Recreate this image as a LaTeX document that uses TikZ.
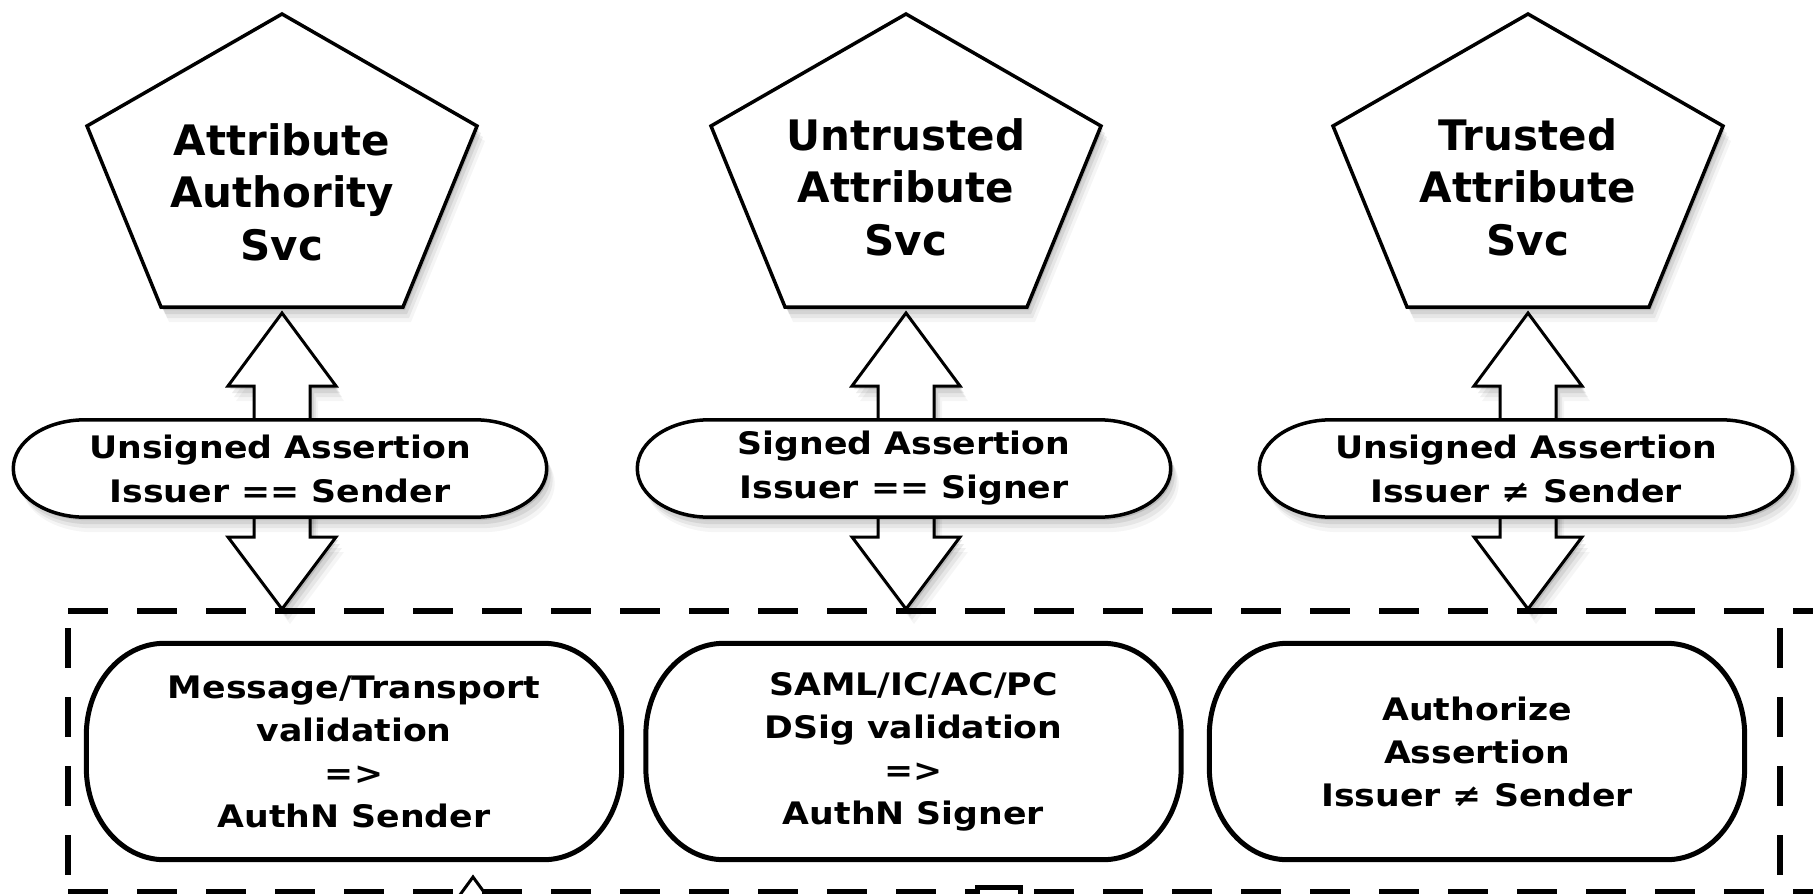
\documentclass[tikz,border=0pt]{standalone}
\usepackage{fontspec}
\setmainfont{DejaVu Sans}
\newfontfamily\lblfont[FakeStretch=1.12]{DejaVu Sans}
\usetikzlibrary{calc}
\pgfdeclarelayer{back}
\pgfdeclarelayer{mid}
\pgfsetlayers{back,mid,main}

\tikzset{
  haze/.style={
    preaction={fill=black,opacity=.12,transform canvas={shift={(2pt,-3pt)}}},
    preaction={fill=black,opacity=.08,transform canvas={shift={(4pt,-7pt)}}},
    preaction={fill=black,opacity=.06,transform canvas={shift={(6pt,-11pt)}}},
    preaction={fill=black,opacity=.04,transform canvas={shift={(8pt,-15pt)}}}},
  pentbox/.style={draw=black,line width=3.5pt,fill=white,line join=miter,haze},
  bigarrow/.style={draw=black,line width=3pt,fill=white,line join=miter,haze},
  pill/.style={draw=black,line width=3.5pt,fill=white,haze},
  stadium/.style={draw=black,line width=5pt,fill=white},
  frameline/.style={draw=black,line width=6pt,dash pattern=on 40pt off 29pt},
  svctext/.style={inner sep=0pt,align=center,
    font=\bfseries\fontsize{42}{52.5}\selectfont},
  pilltext/.style={inner sep=0pt,align=center,minimum width=533pt,minimum height=97pt,
    font=\lblfont\bfseries\fontsize{31}{44}\selectfont},
  steptext/.style={inner sep=0pt,align=center,minimum width=535pt,minimum height=216pt,
    font=\lblfont\bfseries\fontsize{31}{43}\selectfont},
}

% squashed pentagon around a centre coordinate
\newcommand\pentaround[1]{%
  \draw[pentbox] ([shift={(0pt,178pt)}]#1) -- ([shift={(195pt,66pt)}]#1)
    -- ([shift={(121pt,-115pt)}]#1) -- ([shift={(-121pt,-115pt)}]#1)
    -- ([shift={(-195pt,66pt)}]#1) -- cycle;}

% hollow double-headed block arrow between an upper tip and a lower tip
\newcommand\dblarrow[2]{%
  \draw[bigarrow] (#1) -- ([shift={(54pt,-73pt)}]#1) -- ([shift={(28pt,-73pt)}]#1)
    -- ([shift={(28pt,72pt)}]#2) -- ([shift={(54pt,72pt)}]#2) -- (#2)
    -- ([shift={(-54pt,72pt)}]#2) -- ([shift={(-28pt,72pt)}]#2)
    -- ([shift={(-28pt,-73pt)}]#1) -- ([shift={(-54pt,-73pt)}]#1) -- cycle;}

% capsule outline with elliptic ends around a node
\newcommand\capsule[4]{%
  \draw[#1] ([xshift=#3]#2.north west) -- ([xshift=-#3]#2.north east)
    arc[start angle=90,end angle=0,x radius=#3,y radius=#4]
    -- ([yshift=#4]#2.south east)
    arc[start angle=0,end angle=-90,x radius=#3,y radius=#4]
    -- ([xshift=#3]#2.south west)
    arc[start angle=270,end angle=180,x radius=#3,y radius=#4]
    -- ([yshift=-#4]#2.north west)
    arc[start angle=180,end angle=90,x radius=#3,y radius=#4] -- cycle;}

\begin{document}
\begin{tikzpicture}[x=1pt,y=-1pt]
\useasboundingbox (0,0) rectangle (1813,894);

% service pentagons
\coordinate (aasc) at (282,192);
\coordinate (uasc) at (906,192);
\coordinate (tasc) at (1528,192);
\node[svctext] (aas) at (282,192) {Attribute\\Authority\\Svc};
\node[svctext] (uas) at (906,187) {Untrusted\\Attribute\\Svc};
\node[svctext] (tas) at (1528,187) {Trusted\\Attribute\\Svc};

% arrow tips on the pentagons and on the frame
\coordinate (aast) at (282,313);  \coordinate (aasf) at (282,609);
\coordinate (uast) at (906,313);  \coordinate (uasf) at (906,609);
\coordinate (tast) at (1528,313); \coordinate (tasf) at (1528,609);

% assertion labels
\node[pilltext] (a1) at (280,468.5) {Unsigned Assertion\\Issuer == Sender};
\node[pilltext] (a2) at (904,468.5) {Signed Assertion\\Issuer == Signer};
\node[pilltext] (a3) at (1526,468.5) {Unsigned Assertion\\Issuer ≠ Sender};

% processing steps
\node[steptext] (s1) at (354,751.5) {Message/Transport\\validation\\=>\\AuthN Sender};
\node[steptext] (s2) at (913.5,751.5) {SAML/IC/AC/PC\\DSig validation\\=>\\AuthN Signer};
\node[steptext] (s3) at (1477,751.5) {Authorize\\Assertion\\Issuer ≠ Sender};

% items entering from below
\coordinate (lowtip) at (473,877);
\node[draw=black,line width=5pt,fill=white,minimum size=43pt,inner sep=0pt] (lowbox) at (998.5,908.5) {};

\begin{pgfonlayer}{back}
  \fill[white] (0,0) rectangle (1813,894);
  \draw[bigarrow] (lowtip) -- ([shift={(54pt,-74pt)}]lowtip) -- ([shift={(28pt,-74pt)}]lowtip)
    -- ([shift={(28pt,-120pt)}]lowtip) -- ([shift={(-28pt,-120pt)}]lowtip)
    -- ([shift={(-28pt,-74pt)}]lowtip) -- ([shift={(-54pt,-74pt)}]lowtip) -- cycle;
  % dashed enclosure
  \draw[frameline] (68,611) -- (1813,611);
  \draw[frameline] (68,892) -- (1813,892);
  \draw[frameline,dash phase=52pt] (68,611) -- (68,892);
  \draw[frameline,dash phase=52pt] (1780,611) -- (1780,892);
  % block arrows
  \dblarrow{aast}{aasf}
  \dblarrow{uast}{uasf}
  \dblarrow{tast}{tasf}
\end{pgfonlayer}

\begin{pgfonlayer}{mid}
  \pentaround{aasc}
  \pentaround{uasc}
  \pentaround{tasc}
  \capsule{pill}{a1}{72pt}{48.5pt}
  \capsule{pill}{a2}{72pt}{48.5pt}
  \capsule{pill}{a3}{72pt}{48.5pt}
  \capsule{stadium}{s1}{78pt}{92pt}
  \capsule{stadium}{s2}{78pt}{92pt}
  \capsule{stadium}{s3}{78pt}{92pt}
\end{pgfonlayer}
\end{tikzpicture}
\end{document}
